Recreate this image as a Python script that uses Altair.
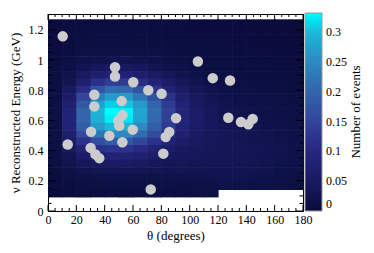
import altair as alt
import pandas as pd
import numpy as np

# ---- data ----
theta_edges = [0, 10, 20, 30, 40, 50, 60, 70, 80, 90, 100, 110, 120, 130, 140, 150, 160, 170, 180]
energy_low = 0.09
energy_bin = 0.049

# events per bin (x 1/1000), rows from top (highest energy) to bottom
counts_milli = [
    [4, 5, 6, 6, 6, 6, 6, 5, 5, 5, 4, 4, 4, 4, 3, 3, 3, 3],
    [4, 6, 7, 7, 7, 7, 7, 6, 5, 5, 5, 4, 4, 4, 4, 3, 3, 3],
    [5, 6, 8, 9, 9, 9, 8, 7, 6, 6, 5, 5, 5, 4, 4, 4, 3, 3],
    [5, 7, 10, 11, 11, 11, 10, 9, 8, 7, 6, 6, 5, 5, 5, 4, 4, 3],
    [6, 9, 13, 15, 16, 16, 14, 12, 10, 9, 8, 7, 6, 6, 5, 5, 4, 4],
    [6, 11, 17, 22, 26, 26, 22, 18, 14, 12, 10, 8, 7, 7, 6, 6, 5, 4],
    [7, 15, 28, 42, 50, 48, 40, 30, 22, 17, 13, 10, 9, 8, 8, 7, 6, 5],
    [8, 22, 45, 70, 85, 82, 68, 52, 38, 27, 19, 14, 11, 10, 9, 8, 7, 6],
    [9, 32, 70, 115, 140, 135, 110, 82, 58, 40, 26, 18, 14, 12, 11, 10, 8, 7],
    [10, 45, 110, 175, 210, 205, 170, 125, 85, 55, 35, 24, 17, 15, 13, 12, 10, 8],
    [11, 60, 150, 235, 270, 265, 225, 170, 115, 72, 44, 30, 21, 18, 16, 14, 12, 10],
    [12, 75, 180, 275, 310, 305, 265, 200, 135, 85, 52, 35, 25, 21, 18, 16, 14, 12],
    [13, 85, 200, 295, 330, 325, 280, 210, 145, 92, 57, 39, 28, 24, 21, 18, 16, 13],
    [14, 88, 200, 290, 325, 320, 275, 205, 142, 90, 58, 42, 31, 27, 24, 21, 18, 15],
    [14, 85, 190, 270, 300, 295, 250, 190, 132, 85, 57, 43, 33, 29, 26, 23, 19, 16],
    [14, 75, 160, 225, 250, 245, 210, 160, 112, 74, 52, 41, 35, 31, 28, 25, 21, 17],
    [13, 60, 120, 165, 185, 180, 155, 120, 85, 60, 45, 39, 36, 33, 30, 27, 23, 18],
    [12, 45, 85, 115, 125, 122, 105, 82, 62, 48, 41, 38, 36, 34, 31, 28, 24, 19],
    [11, 32, 58, 78, 85, 82, 72, 58, 47, 41, 38, 36, 35, 33, 31, 28, 24, 19],
    [10, 24, 38, 50, 54, 52, 47, 40, 36, 34, 33, 33, 33, 32, 30, 27, 23, 18],
    [8, 16, 24, 30, 32, 32, 30, 28, 27, 27, 28, 29, 30, 29, 27, 24, 20, 16],
    [6, 12, 16, 19, 20, 20, 19, 19, 19, 20, 22, 23, 25, 25, 23, 20, 17, 13],
    [5, 8, 11, 12, 13, 13, 13, 13, 14, 15, 17, 18, 20, 20, 18, 16, 14, 11],
    [3, 5, 7, 8, 8, 8, 9, 9, 10, 11, 12, 12, None, None, None, None, None, None],
]

point_theta = [10.4, 105.8, 116.3, 128.5, 127.3, 136.2, 144.5, 141.4, 47.3, 47.3, 60.2,
               70.8, 80.2, 32.7, 32.7, 52.0, 90.4, 52.6, 49.6, 50.3, 59.8, 30.4, 43.3,
               52.5, 13.9, 30.1, 33.5, 36.2, 85.6, 83.1, 81.4, 72.5]
point_energy = [1.157, 0.99, 0.88, 0.865, 0.618, 0.59, 0.61, 0.575, 0.952, 0.891, 0.853,
                0.80, 0.777, 0.77, 0.693, 0.728, 0.615, 0.634, 0.60, 0.565, 0.539, 0.525, 0.498,
                0.455, 0.44, 0.418, 0.375, 0.35, 0.523, 0.49, 0.38, 0.143]

x_major = [0, 20, 40, 60, 80, 100, 120, 140, 160, 180]
x_minor = [5, 10, 15, 25, 30, 35, 45, 50, 55, 65, 70, 75, 85, 90, 95, 105, 110, 115,
           125, 130, 135, 145, 150, 155, 165, 170, 175]
y_major = [0, 0.2, 0.4, 0.6, 0.8, 1.0, 1.2]
y_minor = [0.05, 0.1, 0.15, 0.25, 0.3, 0.35, 0.45, 0.5, 0.55, 0.65, 0.7, 0.75, 0.85, 0.9,
           0.95, 1.05, 1.1, 1.15, 1.25]

color_stops = [0, 0.05, 0.1, 0.15, 0.2, 0.25, 0.3, 0.332]
color_range = ["#0a0a3a", "#1a1a62", "#262680", "#33449a", "#3464aa", "#2e8ac0", "#20b8d8", "#00ffff"]
legend_values = [0, 0.05, 0.1, 0.15, 0.2, 0.25, 0.3]
colorbar_title = ["Number of events"]

# ---- build tables ----
nrows = len(counts_milli)
recs = []
for i, row in enumerate(counts_milli):
    k = nrows - 1 - i
    e0 = energy_low + k * energy_bin
    e1 = e0 + energy_bin
    for j, v in enumerate(row):
        if v is None:
            continue
        recs.append({"t0": theta_edges[j], "t1": theta_edges[j + 1], "e0": e0, "e1": e1, "v": v / 1000})
heat_df = pd.DataFrame(recs)
pts_df = pd.DataFrame({"theta": point_theta, "energy": point_energy})

W, H = 255, 197
FONT = "Liberation Serif"

xs = alt.Scale(domain=[0, 180], nice=False, zero=False)
ys = alt.Scale(domain=[0, 1.305], nice=False, zero=False)
cs = alt.Scale(domain=color_stops, range=color_range, clamp=True)

common_axis = dict(
    ticks=False, domain=False, grid=False, labelOverlap=False, labelFlush=False,
    labelFont=FONT, labelFontSize=12, labelColor="black", labelFontWeight="normal",
    titleFont=FONT, titleFontSize=13, titleFontWeight="normal", titleColor="black",
)
x_axis = alt.Axis(values=x_major, format="d", title="θ (degrees)", titlePadding=4,
                  labelPadding=3, **common_axis)
y_axis = alt.Axis(values=y_major, format=".1~f", title="ν Reconstructed Energy (GeV)",
                  titlePadding=6, labelPadding=5, **common_axis)


def X(field):
    return alt.X(field, scale=xs, axis=x_axis)


def Y(field):
    return alt.Y(field, scale=ys, axis=y_axis)


heat = alt.Chart(heat_df).mark_rect(x2Offset=0.6, y2Offset=-0.6).encode(
    x=X("t0:Q"),
    x2="t1:Q",
    y=Y("e0:Q"),
    y2="e1:Q",
    color=alt.Color("v:Q", scale=cs,
                    legend=alt.Legend(
                        type="gradient",
                        orient="none", legendX=257, legendY=-1, direction="vertical",
                        gradientLength=198, gradientThickness=17,
                        gradientStrokeColor="#999999", gradientStrokeWidth=1,
                        values=legend_values, format=".2~f", labelOverlap=False,
                        labelFont=FONT, labelFontSize=12, labelColor="black",
                        labelOffset=4, title=None)),
)

pts = alt.Chart(pts_df).mark_circle(size=110, color="#cccccc", opacity=1).encode(
    x=X("theta:Q"), y=Y("energy:Q"))

title_df = pd.DataFrame({"t": colorbar_title})
cbar_title = alt.Chart(title_df).mark_text(
    angle=270, font=FONT, fontSize=13, color="black", align="center", baseline="middle"
).encode(text="t:N", x=alt.value(308), y=alt.value(98))

xmaj_df = pd.DataFrame({"v": x_major})
xmin_df = pd.DataFrame({"v": x_minor})
ymaj_df = pd.DataFrame({"v": y_major})
ymin_df = pd.DataFrame({"v": y_minor})


def xticks(df, ln):
    b = alt.Chart(df).mark_rule(color="black", strokeWidth=1).encode(
        x=X("v:Q"), y=alt.value(H), y2=alt.value(H - ln))
    t = alt.Chart(df).mark_rule(color="black", strokeWidth=1).encode(
        x=X("v:Q"), y=alt.value(0), y2=alt.value(ln))
    return [b, t]


def yticks(df, ln):
    l = alt.Chart(df).mark_rule(color="black", strokeWidth=1).encode(
        y=Y("v:Q"), x=alt.value(0), x2=alt.value(ln))
    r = alt.Chart(df).mark_rule(color="black", strokeWidth=1).encode(
        y=Y("v:Q"), x=alt.value(W), x2=alt.value(W - ln))
    return [l, r]


layers = [heat, pts] + xticks(xmaj_df, 6) + xticks(xmin_df, 3) + yticks(ymaj_df, 7) \
    + yticks(ymin_df, 3.5) + [cbar_title]

chart = alt.layer(*layers).properties(
    width=W, height=H,
    padding={"left": 40, "top": 6, "right": 63, "bottom": 32},
    autosize=alt.AutoSizeParams(type="none"),
).configure(
    font=FONT
).configure_view(
    stroke="black", strokeWidth=1
).configure_axis(
    labelFont=FONT, titleFont=FONT
).configure_legend(
    labelFont=FONT, titleFont=FONT
)

chart.save("out.html", embed_options={"renderer": "svg", "actions": False})
